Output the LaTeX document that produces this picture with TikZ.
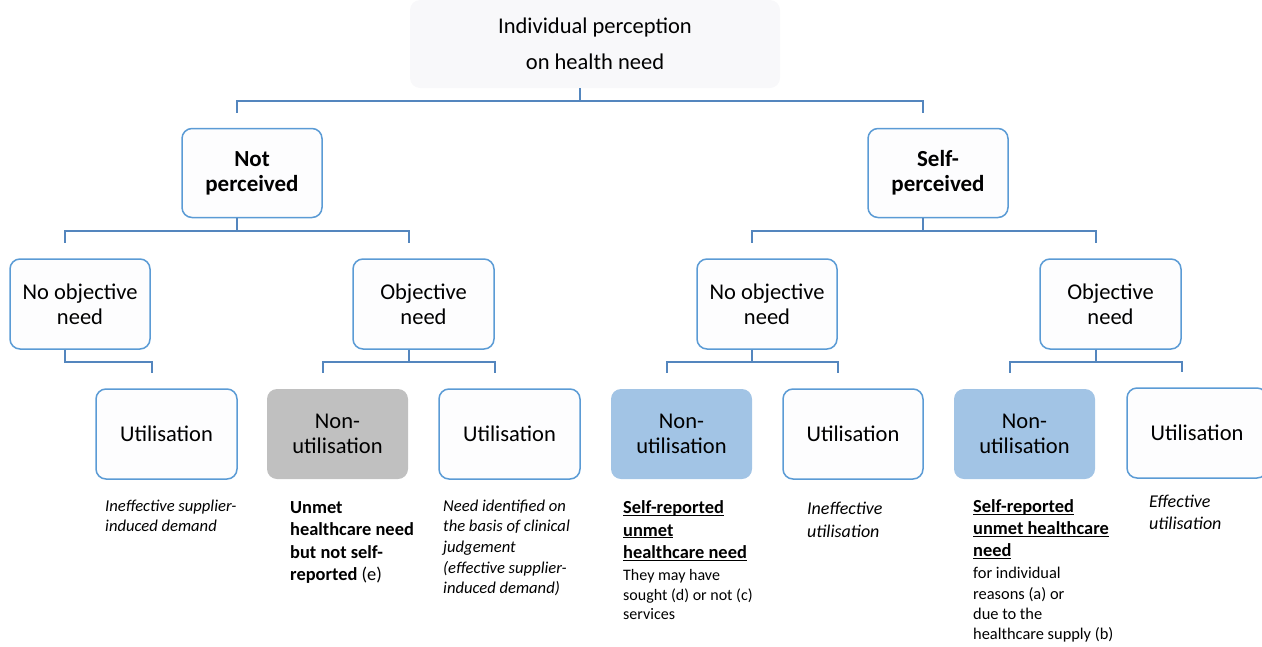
\documentclass[tikz,border=0pt]{standalone}
\usepackage{fontspec}
\setmainfont{Carlito}
\usetikzlibrary{calc}
\definecolor{bordc}{RGB}{91,155,213}
\definecolor{linec}{RGB}{84,134,190}
\definecolor{grayf}{RGB}{192,192,192}
\definecolor{bluef}{RGB}{162,196,229}
\definecolor{boxf}{RGB}{253,253,254}
\definecolor{rootf}{RGB}{248,248,250}
\newcommand{\ulx}[1]{\leavevmode\setbox0=\hbox{#1}\rlap{\rule[-2.2pt]{\wd0}{1.1pt}}\box0}
\newcommand{\treelink}[3]{\draw[conn] ($(#1.south)+(-15,0)$) -- ++(0,#3) -| ($(#2.north)+(-15,-15)$);}
\begin{document}
\begin{tikzpicture}[x=1pt,y=-1pt,
  box/.style={draw=bordc, line width=1.5pt, fill=boxf, rounded corners=10pt,
    minimum width=140pt, minimum height=90pt, inner sep=0pt, align=center,
    font=\fontsize{22.5}{25}\selectfont},
  boldbox/.style={box, font=\fontsize{23}{25}\selectfont\bfseries},
  graybox/.style={box, draw=none, fill=grayf},
  bluebox/.style={box, draw=none, fill=bluef},
  rootbox/.style={fill=rootf, rounded corners=10pt, minimum width=370pt,
    minimum height=88pt, inner sep=0pt, align=center,
    font=\fontsize{22.5}{36}\selectfont},
  conn/.style={draw=linec, line width=2pt},
  note/.style={anchor=base west, inner sep=0pt}]
\useasboundingbox (0,0) rectangle (1262,646);
% nodes
\node[rootbox] (root) at (595,44) {Individual perception\\on health need};
\node[boldbox, minimum height=89pt] (np) at (252,173) {Not\\perceived};
\node[boldbox, minimum height=89pt] (sp) at (938,173) {Self-\\perceived};
\node[box] (noL) at (80,304) {No objective\\need};
\node[box, minimum width=141pt] (obL) at (423.5,304) {Objective\\need};
\node[box] (noR) at (767,304) {No objective\\need};
\node[box, minimum width=141pt] (obR) at (1110.5,304) {Objective\\need};
\node[box, minimum width=141pt] (u1) at (166.5,434) {Utilisation};
\node[graybox, minimum width=141pt] (n1) at (337.5,434) {Non-\\utilisation};
\node[box, minimum width=141pt] (u2) at (509.5,434) {Utilisation};
\node[bluebox, minimum width=141pt] (n2) at (681.5,434) {Non-\\utilisation};
\node[box] (u3) at (853,434) {Utilisation};
\node[bluebox, minimum width=141pt] (n3) at (1024.5,434) {Non-\\utilisation};
\node[box] (u4) at (1197,433) {Utilisation};
% connectors
\treelink{root}{np}{13}
\treelink{root}{sp}{13}
\treelink{np}{noL}{13}
\treelink{np}{obL}{13}
\treelink{sp}{noR}{13}
\treelink{sp}{obR}{13}
\treelink{noL}{u1}{12}
\treelink{obL}{n1}{12}
\treelink{obL}{u2}{12}
\treelink{noR}{n2}{12}
\treelink{noR}{u3}{12}
\treelink{obR}{n3}{12}
\treelink{obR}{u4}{12}
% notes
\node[note] (t1) at (105,511) {\parbox[t]{160pt}{\raggedright\fontsize{16.6}{20.3}\selectfont\itshape Ineffective supplier-\\induced demand}};
\node[note] (t2) at (290,513.5) {\parbox[t]{150pt}{\raggedright\fontsize{18.4}{22.3}\selectfont\bfseries Unmet\\healthcare need\\but not self-\\reported {\mdseries(e)}}};
\node[note] (t3) at (443,511) {\parbox[t]{160pt}{\raggedright\fontsize{16.6}{20.7}\selectfont\itshape Need identified on\\the basis of clinical\\judgement\\(effective supplier-\\induced demand)}};
\node[note] (t4) at (623,513.5) {\parbox[t]{160pt}{\raggedright\fontsize{18.4}{22.5}\selectfont\bfseries \ulx{Self-reported}\\\ulx{unmet}\\\ulx{healthcare need}\par\vspace{2.5pt}\fontsize{16}{19.5}\selectfont\mdseries They may have\\sought (d) or not (c)\\services}};
\node[note] (t5) at (807,514.5) {\parbox[t]{130pt}{\raggedright\fontsize{18}{22.8}\selectfont\itshape Ineffective\\utilisation}};
\node[note] (t6) at (973,512.5) {\parbox[t]{180pt}{\raggedright\fontsize{18.4}{22}\selectfont\bfseries \ulx{Self-reported}\\\ulx{unmet healthcare}\\\ulx{need}\par\vspace{2pt}\fontsize{16.4}{20.3}\selectfont\mdseries for individual\\reasons (a) or\\due to the\\healthcare supply (b)}};
\node[note] (t7) at (1149,507.5) {\parbox[t]{110pt}{\raggedright\fontsize{18}{22}\selectfont\itshape Effective\\utilisation}};
\end{tikzpicture}
\end{document}
